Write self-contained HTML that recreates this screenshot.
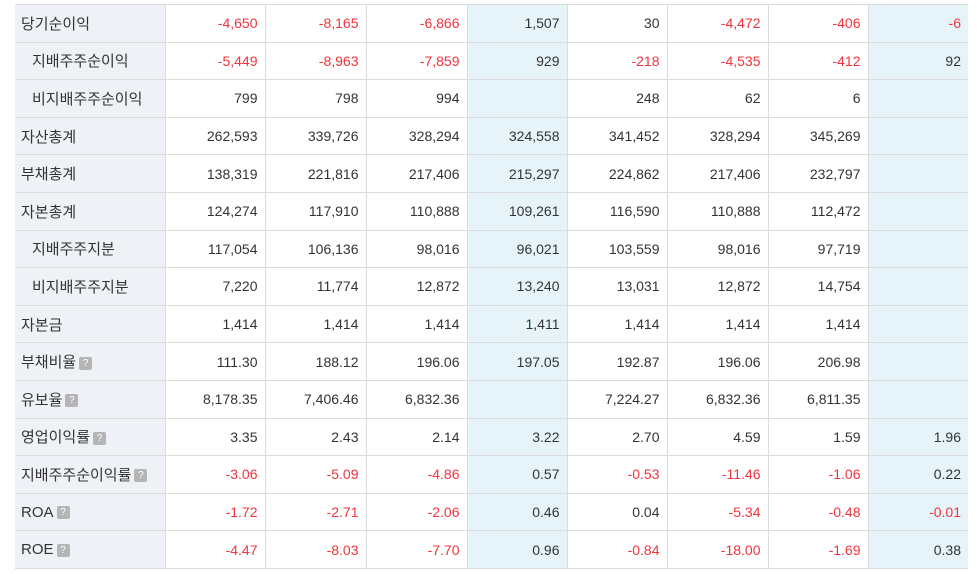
<!DOCTYPE html>
<html><head><meta charset="utf-8"><style>
body{margin:0;width:977px;height:574px;overflow:hidden;background:#fff;font-family:"Liberation Sans","Noto Sans CJK KR",sans-serif;}
table{position:absolute;left:15px;top:4px;border-collapse:collapse;table-layout:fixed;}
td{height:36.6px;border-top:1px solid #dcdcdc;border-bottom:1px solid #dcdcdc;border-left:1px solid #dcdcdc;font-size:14px;color:#333;text-align:right;padding:0 7px 0 0;white-space:nowrap;}
td.l{text-align:left;background:#eef1f5;padding-left:6px;border-left:none;font-size:15px;}
td.l.s{padding-left:17px;}
td.b{background:#e6f4f9;}
.n{color:#f2333d;}
.q{display:inline-block;width:13px;height:13px;background:#b5b5b5;color:#fff;font-size:10px;line-height:13px;text-align:center;border-radius:2px;vertical-align:middle;margin-left:3px;}
</style></head><body>
<table>
<colgroup><col style="width:150px"><col style="width:100px"><col style="width:101px"><col style="width:101px"><col style="width:100px"><col style="width:100px"><col style="width:101px"><col style="width:100px"><col style="width:100px"></colgroup>
<tr><td class="l">당기순이익</td><td class="n">-4,650</td><td class="n">-8,165</td><td class="n">-6,866</td><td class="b">1,507</td><td>30</td><td class="n">-4,472</td><td class="n">-406</td><td class="b n">-6</td></tr>
<tr><td class="l s">지배주주순이익</td><td class="n">-5,449</td><td class="n">-8,963</td><td class="n">-7,859</td><td class="b">929</td><td class="n">-218</td><td class="n">-4,535</td><td class="n">-412</td><td class="b">92</td></tr>
<tr><td class="l s">비지배주주순이익</td><td>799</td><td>798</td><td>994</td><td class="b"></td><td>248</td><td>62</td><td>6</td><td class="b"></td></tr>
<tr><td class="l">자산총계</td><td>262,593</td><td>339,726</td><td>328,294</td><td class="b">324,558</td><td>341,452</td><td>328,294</td><td>345,269</td><td class="b"></td></tr>
<tr><td class="l">부채총계</td><td>138,319</td><td>221,816</td><td>217,406</td><td class="b">215,297</td><td>224,862</td><td>217,406</td><td>232,797</td><td class="b"></td></tr>
<tr><td class="l">자본총계</td><td>124,274</td><td>117,910</td><td>110,888</td><td class="b">109,261</td><td>116,590</td><td>110,888</td><td>112,472</td><td class="b"></td></tr>
<tr><td class="l s">지배주주지분</td><td>117,054</td><td>106,136</td><td>98,016</td><td class="b">96,021</td><td>103,559</td><td>98,016</td><td>97,719</td><td class="b"></td></tr>
<tr><td class="l s">비지배주주지분</td><td>7,220</td><td>11,774</td><td>12,872</td><td class="b">13,240</td><td>13,031</td><td>12,872</td><td>14,754</td><td class="b"></td></tr>
<tr><td class="l">자본금</td><td>1,414</td><td>1,414</td><td>1,414</td><td class="b">1,411</td><td>1,414</td><td>1,414</td><td>1,414</td><td class="b"></td></tr>
<tr><td class="l">부채비율<span class="q">?</span></td><td>111.30</td><td>188.12</td><td>196.06</td><td class="b">197.05</td><td>192.87</td><td>196.06</td><td>206.98</td><td class="b"></td></tr>
<tr><td class="l">유보율<span class="q">?</span></td><td>8,178.35</td><td>7,406.46</td><td>6,832.36</td><td class="b"></td><td>7,224.27</td><td>6,832.36</td><td>6,811.35</td><td class="b"></td></tr>
<tr><td class="l">영업이익률<span class="q">?</span></td><td>3.35</td><td>2.43</td><td>2.14</td><td class="b">3.22</td><td>2.70</td><td>4.59</td><td>1.59</td><td class="b">1.96</td></tr>
<tr><td class="l">지배주주순이익률<span class="q">?</span></td><td class="n">-3.06</td><td class="n">-5.09</td><td class="n">-4.86</td><td class="b">0.57</td><td class="n">-0.53</td><td class="n">-11.46</td><td class="n">-1.06</td><td class="b">0.22</td></tr>
<tr><td class="l">ROA<span class="q">?</span></td><td class="n">-1.72</td><td class="n">-2.71</td><td class="n">-2.06</td><td class="b">0.46</td><td>0.04</td><td class="n">-5.34</td><td class="n">-0.48</td><td class="b n">-0.01</td></tr>
<tr><td class="l">ROE<span class="q">?</span></td><td class="n">-4.47</td><td class="n">-8.03</td><td class="n">-7.70</td><td class="b">0.96</td><td class="n">-0.84</td><td class="n">-18.00</td><td class="n">-1.69</td><td class="b">0.38</td></tr>
</table>
</body></html>
